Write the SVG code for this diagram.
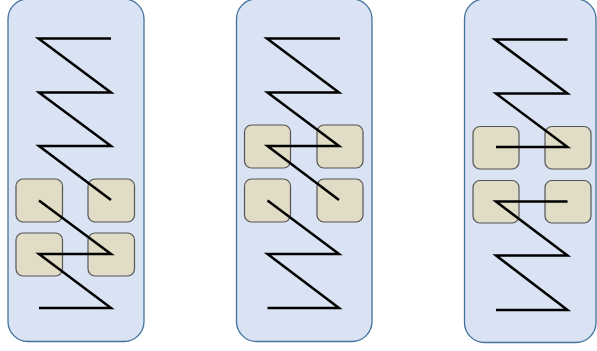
<svg xmlns="http://www.w3.org/2000/svg" width="597" height="351" viewBox="0 0 597 351">
<style>
.panel{fill:#dae3f3;stroke:#41719c;stroke-width:1.3}
.box{fill:#e1dcc5;stroke:#555;stroke-width:1.2}
.z{fill:none;stroke:#000;stroke-width:2.5;stroke-linejoin:miter}
</style>
<rect width="597" height="351" fill="#fff"/>
<g id="panel1">
<rect class="panel" x="8" y="-1" width="136" height="342.5" rx="20"/>
<rect class="box" x="16" y="179" width="46.5" height="43" rx="7"/>
<rect class="box" x="88" y="179" width="46.5" height="43" rx="7"/>
<rect class="box" x="16" y="233" width="46.5" height="43" rx="7"/>
<rect class="box" x="88" y="233" width="46.5" height="43" rx="7"/>
</g>
<g id="panel2">
<rect class="panel" x="236.5" y="-1" width="135.5" height="342.5" rx="20"/>
<rect class="box" x="244.5" y="125" width="46" height="43" rx="7"/>
<rect class="box" x="317" y="125" width="46" height="43" rx="7"/>
<rect class="box" x="244.5" y="179" width="46" height="43" rx="7"/>
<rect class="box" x="317" y="179" width="46" height="43" rx="7"/>
</g>
<g id="panel3">
<rect class="panel" x="464.5" y="-1" width="131.5" height="343.5" rx="20"/>
<rect class="box" x="473" y="126.5" width="46" height="42.5" rx="7"/>
<rect class="box" x="545" y="126.5" width="46" height="42.5" rx="7"/>
<rect class="box" x="473" y="180.5" width="46" height="42.5" rx="7"/>
<rect class="box" x="545" y="180.5" width="46" height="42.5" rx="7"/>
</g>
<g id="connectors">
<polyline class="z" points="111,38.5 38.5,38.5 111,92.5 39,92.5 111,146 39,146 111,200"/>
<polyline class="z" points="39,200.5 111,254 39,254 111,308 39,308"/>
<polyline class="z" points="340,38.5 267,38.5 339,92.5 267.5,92.5 339,146 267.5,146 339,200"/>
<polyline class="z" points="267.5,200.5 339,254 267.5,254 339,308 267.5,308"/>
<polyline class="z" points="567.5,39.5 495,39.5 567.5,93.5 496,93.5 567.5,147 496,147"/>
<polyline class="z" points="567.5,201.5 496,201.5 567.5,255.5 496,255.5 567.5,310 496,310"/>
</g>
</svg>
